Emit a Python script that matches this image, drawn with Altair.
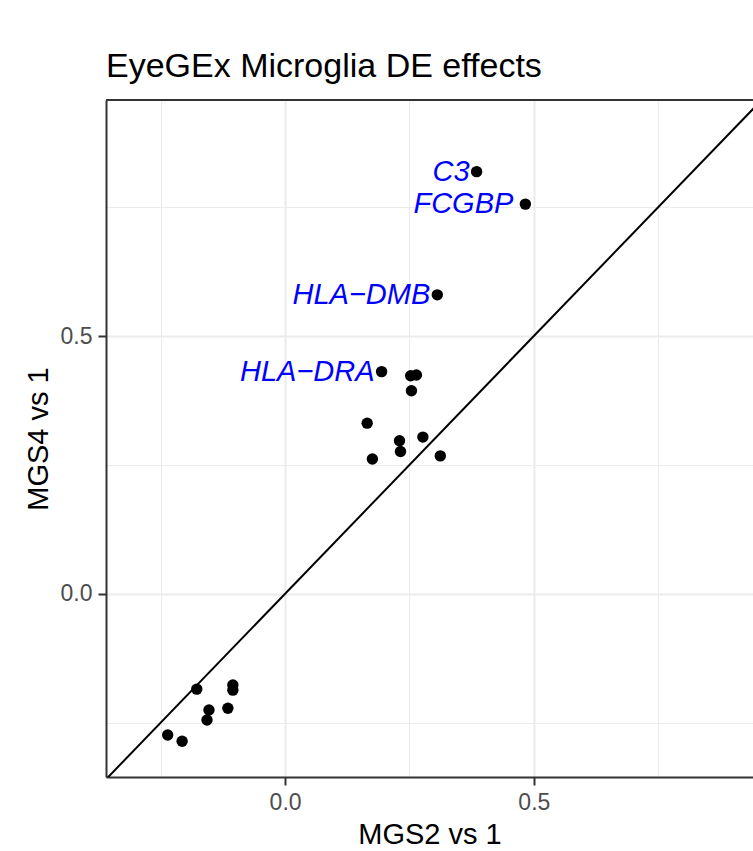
import altair as alt
import pandas as pd

# Data
genes = ["C3", "FCGBP", "HLA−DMB", "HLA−DRA", "", "", "", "", "", "", "", "", "",
         "", "", "", "", "", "", "", ""]
mgs2_vs_1 = [0.385, 0.483, 0.306, 0.194, 0.2525, 0.264, 0.254, 0.165, 0.230, 0.277,
             0.232, 0.1755, 0.312, -0.1775, -0.105, -0.105, -0.153, -0.115, -0.157,
             -0.236, -0.207]
mgs4_vs_1 = [0.819, 0.756, 0.580, 0.431, 0.423, 0.4245, 0.394, 0.331, 0.297, 0.304,
             0.276, 0.2615, 0.2675, -0.185, -0.177, -0.187, -0.2255, -0.222, -0.245,
             -0.274, -0.286]

x_range = [-0.36, 0.9406]
y_range = [-0.3555, 0.958]
diag_ends = [-0.36, 0.958]
tick_values = [-0.25, 0.0, 0.25, 0.5, 0.75]

df = pd.DataFrame({"gene": genes, "x": mgs2_vs_1, "y": mgs4_vs_1})
line_df = pd.DataFrame({"v": diag_ends})

FONT = "Liberation Sans"
major = "abs(datum.value % 0.5) < 1e-6"
label_expr = "abs(datum.value % 0.5) < 1e-6 ? format(datum.value, '.1f') : ''"

common_axis = dict(
    values=tick_values,
    labelExpr=label_expr,
    grid=True,
    gridColor="#EBEBEB",
    gridWidth={"condition": {"test": major, "value": 2}, "value": 1},
    tickOpacity={"condition": {"test": major, "value": 1}, "value": 0},
    tickColor="#333333",
    tickWidth=2,
    tickSize=8,
    labelPadding=6,
    labelFont=FONT,
    labelFontSize=23,
    labelColor="#4D4D4D",
    domain=True,
    domainColor="#333333",
    domainWidth=2,
    titleFont=FONT,
    titleFontSize=29,
    titleFontWeight="normal",
    titleColor="black",
    titleBaseline="alphabetic",
)

x_axis = alt.Axis(title="MGS2 vs 1", titleY=66, **common_axis)
y_axis = alt.Axis(title="MGS4 vs 1", titleAngle=270, titleX=-59, **common_axis)

xs = alt.Scale(domain=x_range, nice=False, zero=False)
ys = alt.Scale(domain=y_range, nice=False, zero=False)

base = alt.Chart(df)

points = base.mark_circle(size=130, color="black", opacity=1).encode(
    x=alt.X("x:Q", scale=xs, axis=x_axis),
    y=alt.Y("y:Q", scale=ys, axis=y_axis),
)

diag = alt.Chart(line_df).mark_line(color="black", strokeWidth=2, clip=True).encode(
    x=alt.X("v:Q", scale=xs, axis=x_axis),
    y=alt.Y("v:Q", scale=ys, axis=y_axis),
)

# top border of the panel, at the top of the y range
top_border = alt.Chart(line_df.head(1)).mark_rule(color="#333333", strokeWidth=2).encode(
    y=alt.YDatum(y_range[1], type="quantitative", scale=ys, axis=y_axis),
)

label_style = dict(align="right", baseline="middle", font=FONT, fontSize=29,
                   fontStyle="italic", color="#0000FF")

labels = base.transform_filter(
    "datum.gene != '' && datum.gene != 'FCGBP'"
).mark_text(dx=-7, **label_style).encode(
    x=alt.X("x:Q", scale=xs, axis=x_axis), y=alt.Y("y:Q", scale=ys, axis=y_axis),
    text="gene:N"
)

labels2 = base.transform_filter(
    "datum.gene == 'FCGBP'"
).mark_text(dx=-12, **label_style).encode(
    x=alt.X("x:Q", scale=xs, axis=x_axis), y=alt.Y("y:Q", scale=ys, axis=y_axis),
    text="gene:N"
)

chart = alt.layer(diag, top_border, points, labels, labels2).properties(
    width=647,
    height=677,
    title=alt.TitleParams(
        "EyeGEx Microglia DE effects",
        anchor="start",
        frame="group",
        font=FONT,
        fontSize=34,
        fontWeight="normal",
        color="black",
        baseline="alphabetic",
        offset=-12,
    ),
    autosize=alt.AutoSizeParams(type="none"),
    padding={"left": 106, "top": 100, "right": 0, "bottom": 74},
    background="white",
).configure_view(
    stroke=None,
)

chart.save("out.html", embed_options={"renderer": "svg", "actions": False})
